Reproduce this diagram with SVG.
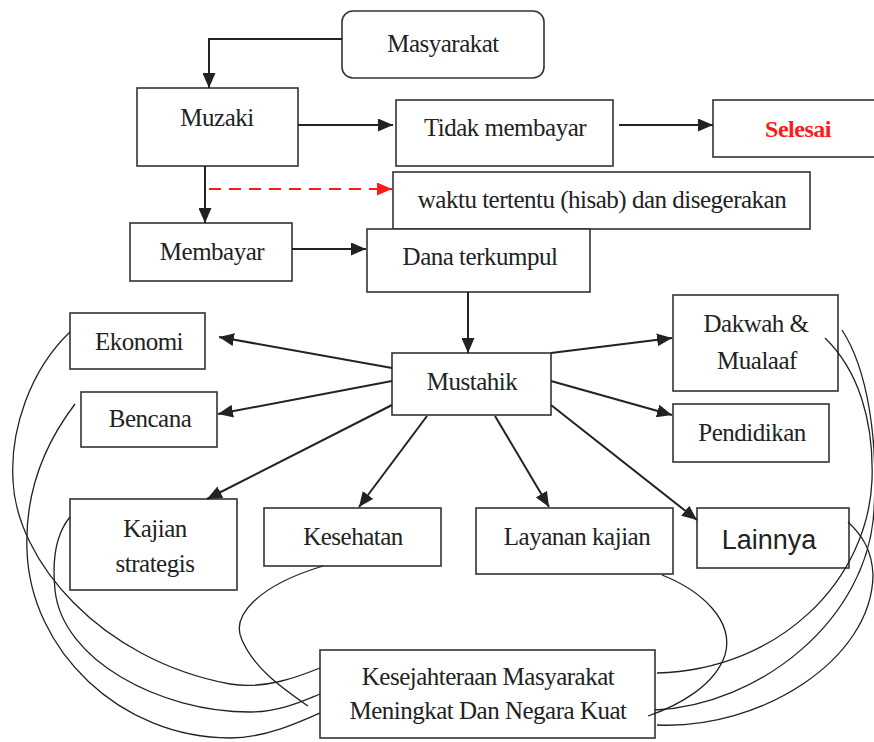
<svg xmlns="http://www.w3.org/2000/svg" width="874" height="742" viewBox="0 0 874 742">
<defs>
<style>
.box{fill:#fff;stroke:#333;stroke-width:1.6}
.t{font-family:"Liberation Serif","Times New Roman",serif;font-size:25px;letter-spacing:-0.5px;fill:#222;text-anchor:middle}
.ln{fill:none;stroke:#222;stroke-width:2}
.cv{fill:none;stroke:#222;stroke-width:1.3}
</style>
<marker id="ah" markerUnits="userSpaceOnUse" markerWidth="16" markerHeight="13" refX="15" refY="6.5" orient="auto"><path d="M0,0 L15,6.5 L0,13 z" fill="#222"/></marker>
<marker id="ahr" markerUnits="userSpaceOnUse" markerWidth="16" markerHeight="13" refX="15" refY="6.5" orient="auto"><path d="M0,0 L15,6.5 L0,13 z" fill="#ff1a1a"/></marker>
</defs>
<rect width="874" height="742" fill="#fff"/>
<g id="masyarakat"><rect class="box" x="342" y="11" width="202" height="67" rx="11"/><text class="t" x="443" y="52">Masyarakat</text></g>
<g id="muzaki"><rect class="box" x="137" y="88" width="161" height="78"/><text class="t" x="217" y="126">Muzaki</text></g>
<g id="tidak"><rect class="box" x="396" y="100" width="217" height="66"/><text class="t" x="505" y="136">Tidak membayar</text></g>
<g id="selesai"><rect class="box" x="713" y="100" width="170" height="57"/><text class="t" x="798" y="137" style="fill:#ff1a1a;font-weight:bold;font-size:24px">Selesai</text></g>
<g id="waktu"><rect class="box" x="393" y="172" width="417" height="57"/><text class="t" x="602" y="208">waktu tertentu (hisab) dan disegerakan</text></g>
<g id="membayar"><rect class="box" x="130" y="223" width="162" height="58"/><text class="t" x="212" y="260">Membayar</text></g>
<g id="dana"><rect class="box" x="367" y="229" width="223" height="63"/><text class="t" x="480" y="265">Dana terkumpul</text></g>
<g id="mustahik"><rect class="box" x="392" y="353" width="159" height="62"/><text class="t" x="472" y="390">Mustahik</text></g>
<g id="ekonomi"><rect class="box" x="70" y="313" width="135" height="56"/><text class="t" x="139" y="350">Ekonomi</text></g>
<g id="bencana"><rect class="box" x="81" y="392" width="136" height="55"/><text class="t" x="150" y="427">Bencana</text></g>
<g id="kajian"><rect class="box" x="70" y="499" width="167" height="91"/><text class="t" x="155" y="537">Kajian</text><text class="t" x="155" y="572">strategis</text></g>
<g id="kesehatan"><rect class="box" x="264" y="508" width="177" height="58"/><text class="t" x="353" y="545">Kesehatan</text></g>
<g id="layanan"><rect class="box" x="476" y="508" width="197" height="66"/><text class="t" x="577" y="545">Layanan kajian</text></g>
<g id="lainnya"><rect class="box" x="697" y="508" width="152" height="60"/><text class="t" x="769" y="549" style="font-family:'Liberation Sans',Arial,sans-serif;font-size:27px;letter-spacing:0">Lainnya</text></g>
<g id="dakwah"><rect class="box" x="673" y="295" width="165" height="96"/><text class="t" x="756" y="332">Dakwah &amp;</text><text class="t" x="757" y="369">Mualaaf</text></g>
<g id="pendidikan"><rect class="box" x="673" y="404" width="156" height="58"/><text class="t" x="752" y="441">Pendidikan</text></g>
<g id="kesejahteraan"><rect class="box" x="320" y="650" width="335" height="88"/><text class="t" x="488" y="685">Kesejahteraan Masyarakat</text><text class="t" x="488" y="719">Meningkat Dan Negara Kuat</text></g>
<g id="connectors">
<path class="ln" d="M342,39 H209 V88" marker-end="url(#ah)"/>
<path class="ln" d="M298,125 H393" marker-end="url(#ah)"/>
<path class="ln" d="M619,125 H713" marker-end="url(#ah)"/>
<path class="ln" d="M205,166 V223" marker-end="url(#ah)"/>
<path class="ln" d="M209,189 H392" style="stroke:#ff1a1a" stroke-dasharray="12,8" marker-end="url(#ahr)"/>
<path class="ln" d="M292,249 H366" marker-end="url(#ah)"/>
<path class="ln" d="M468,292 V353" marker-end="url(#ah)"/>
<path class="ln" d="M392,368 L219,337" marker-end="url(#ah)"/>
<path class="ln" d="M392,381 L218,414" marker-end="url(#ah)"/>
<path class="ln" d="M392,405 L207,499" marker-end="url(#ah)"/>
<path class="ln" d="M427,416 L359,507" marker-end="url(#ah)"/>
<path class="ln" d="M495,416 L549,507" marker-end="url(#ah)"/>
<path class="ln" d="M551,405 L697,520" marker-end="url(#ah)"/>
<path class="ln" d="M551,381 L672,415" marker-end="url(#ah)"/>
<path class="ln" d="M551,353 L672,338" marker-end="url(#ah)"/>
<path class="cv" d="M70,332 C30,370 10,430 13,480 C16,560 100,660 230,684 C265,690 300,676 320,668"/>
<path class="cv" d="M75,404 C40,450 25,500 27,550 C30,650 120,738 230,738 C265,738 300,722 320,713"/>
<path class="cv" d="M70,517 C55,535 52,560 55,590 C62,660 160,712 250,712 C280,712 305,700 320,694"/>
<path class="cv" d="M323,566 C260,585 230,615 242,640 C255,670 285,690 308,706"/>
<path class="cv" d="M662,575 C700,590 735,620 725,655 C715,685 680,705 648,716"/>
<path class="cv" d="M825,338 C858,370 874,420 872,480 C868,580 780,670 657,673"/>
<path class="cv" d="M842,330 C868,370 878,440 874,510 C868,620 760,705 655,710"/>
<path class="cv" d="M848,522 C862,535 872,550 873,575 C872,660 760,730 657,725"/>
</g>
</svg>
